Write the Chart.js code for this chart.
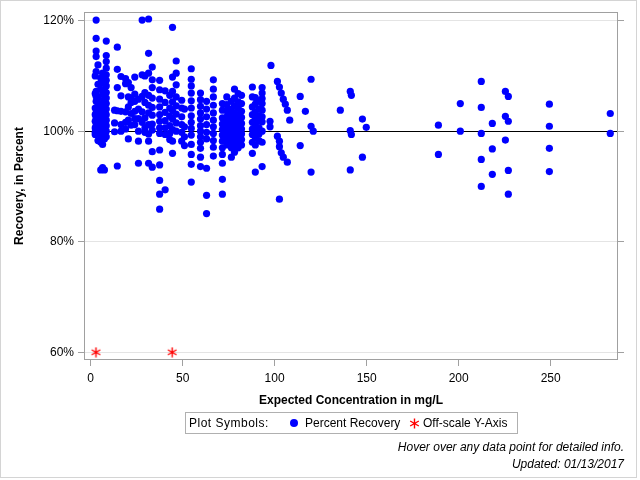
<!DOCTYPE html>
<html>
<head>
<meta charset="utf-8">
<script src="https://cdn.jsdelivr.net/npm/chart.js@4/dist/chart.umd.min.js"></script>
<style>
  html, body { margin: 0; padding: 0; background: #fff; }
  #wrap { position: relative; width: 640px; height: 480px; font-family: "Liberation Sans", Arial, sans-serif; }
  #c { position: absolute; left: 0; top: 0; }
  #legend { position: absolute; left: 185px; top: 412px; width: 331px; height: 20px; border: 1px solid #b0b0b0; font-size: 12px; color: #000; }
  #legend span { position: absolute; top: 3px; white-space: nowrap; }
  .dot { width: 8px; height: 8px; border-radius: 50%; background: #0000ff; position: absolute; }
  #legStar { position: absolute; left: 223px; top: 5px; }
  .foot { position: absolute; right: 16px; font-size: 12px; font-style: italic; color: #000; white-space: nowrap; }
</style>
</head>
<body>
<div id="wrap">
  <canvas id="c" width="640" height="480"></canvas>
  <div id="legend">
    <span style="left:3px; letter-spacing:0.5px">Plot Symbols:</span>
    <div class="dot" style="left:104px; top:6px"></div>
    <span style="left:119px">Percent Recovery</span>
    <canvas id="legStar" width="11" height="11"></canvas>
    <span style="left:237px">Off-scale Y-Axis</span>
  </div>
  <div class="foot" style="top:440px">Hover over any data point for detailed info.</div>
  <div class="foot" style="top:457px">Updated: 01/13/2017</div>
</div>
<script>
// Expected concentration levels (mg/L) and the percent recoveries observed at each level
const concLevels = [
  2.5, 3, 4, 5.5, 6.5, 7.5, 8.5, 13, 14.5, 16.5, 19, 20.5, 22, 24, 26, 28, 29.5, 31.5, 33.5,
  37.5, 40.5, 43, 44.5, 46.5, 49.5, 51, 54.7, 59.7, 63, 66.7, 71.6, 74, 76.5, 78.2, 80.2, 82,
  87.9, 89.5, 91.5, 93.2, 97.5, 98, 101.5, 102.6, 103.6, 104.7, 105.8, 106.9, 108.2,
  113.9, 116.7, 119.8, 121, 135.7, 141.1, 141.7, 147.7, 149.8,
  189, 200.9, 212.3, 218.3, 225.4, 227, 249.3, 282.4
];
const recoveryByLevel = [
  [110.0, 106.8, 104.2, 103.0, 101.8, 100.6, 99.8, 99.4],
  [120.1, 116.8, 114.5, 113.5, 110.8, 107.2, 106.3, 105.4, 103.3, 102.3, 101.0, 100.1],
  [112.0, 108.5, 106.0, 104.5, 102.0, 100.3, 99.6, 98.3],
  [109.6, 107.6, 105.0, 103.6, 102.8, 101.5, 100.4, 99.0, 98.0, 93.0],
  [110.5, 108.8, 106.7, 104.9, 103.9, 102.2, 101.0, 100.0, 99.2, 97.6, 93.4],
  [107.3, 105.8, 104.5, 103.4, 102.5, 101.5, 100.7, 99.6, 98.6, 93.0],
  [116.3, 113.7, 112.6, 111.4, 110.2, 109.2, 108.2, 107.0, 106.0, 105.0, 104.0, 103.0, 102.0, 101.0, 100.0, 99.0],
  [103.8, 101.5, 99.9],
  [115.2, 111.2, 107.9, 103.7, 93.7],
  [109.9, 106.4, 103.6, 101.2, 100.0],
  [109.5, 108.6, 103.5, 101.6, 100.4],
  [108.8, 106.2, 104.4, 102.0, 98.6],
  [107.9, 106.0, 105.2, 103.2, 101.1],
  [109.8, 106.7, 105.4, 103.6, 102.3, 101.2],
  [105.8, 104.0, 102.3, 100.0, 98.2, 94.2],
  [120.1, 110.2, 106.3, 103.5, 101.6],
  [110.0, 107.0, 105.2, 102.4, 100.6, 99.8],
  [120.3, 114.1, 110.5, 106.5, 104.7, 103.3, 101.2, 99.5, 98.2, 94.2],
  [111.6, 109.3, 107.9, 106.0, 104.3, 102.9, 101.3, 100.2, 96.3, 93.5],
  [109.2, 107.5, 105.8, 104.4, 103.0, 101.8, 100.6, 99.6, 96.6, 93.9, 91.1, 88.6, 85.9],
  [107.3, 105.2, 103.4, 101.9, 100.6, 99.4, 89.4],
  [106.5, 104.2, 102.7, 101.0, 99.6, 98.5],
  [118.8, 109.8, 107.2, 105.3, 103.7, 102.2, 100.3, 98.2, 96.0],
  [112.7, 110.5, 108.4, 106.2, 104.6, 103.1, 101.5, 100.0],
  [105.6, 104.2, 102.6, 101.2, 99.8, 98.2],
  [104.0, 100.8, 99.0, 97.4],
  [111.3, 109.4, 108.2, 106.9, 105.5, 104.2, 102.8, 101.6, 100.5, 99.3, 97.6, 95.8, 94.0, 90.8],
  [106.9, 105.7, 104.5, 103.3, 102.2, 101.0, 100.0, 99.0, 98.0, 96.9, 95.3, 93.6],
  [105.4, 104.0, 102.6, 101.2, 99.8, 98.6, 93.3, 88.4, 85.1],
  [109.3, 107.6, 106.2, 104.7, 103.3, 102.0, 100.8, 99.6, 98.3, 97.1, 95.5],
  [105.0, 103.8, 102.4, 101.3, 100.3, 99.3, 98.2, 97.0, 95.8, 94.2, 91.3, 88.6],
  [106.2, 104.8, 103.7, 102.6, 101.5, 100.5, 99.5, 98.6, 97.5],
  [105.4, 104.0, 103.0, 102.0, 101.0, 100.0, 99.0, 98.0, 97.0, 95.3],
  [107.6, 106.0, 104.6, 103.3, 102.3, 101.3, 100.3, 99.3, 98.3, 97.2, 96.2],
  [106.8, 105.3, 104.2, 103.0, 102.0, 101.0, 100.0, 99.0, 98.0, 97.0],
  [106.5, 105.0, 103.6, 102.5, 101.4, 100.4, 99.5, 98.5, 97.5],
  [108.0, 106.2, 104.4, 103.0, 101.6, 100.4, 99.4, 98.0, 96.0],
  [106.1, 104.9, 103.5, 102.3, 101.2, 100.0, 98.8, 97.5, 92.6],
  [105.5, 104.0, 102.8, 101.8, 100.6, 99.5, 98.3],
  [107.9, 106.9, 105.9, 105.0, 103.8, 102.6, 101.7, 100.0, 98.0, 93.6],
  [101.8, 100.8],
  [111.9],
  [109.0, 99.1],
  [108.0, 98.2, 97.2, 87.7],
  [106.9, 96.1],
  [105.8, 95.3],
  [104.9],
  [103.8, 94.4],
  [102.0],
  [106.3, 97.4],
  [103.6],
  [109.4, 100.9, 92.6],
  [100.0],
  [103.8],
  [107.2, 100.1, 93.0],
  [106.5, 99.4],
  [102.2, 95.3],
  [100.7],
  [101.1, 95.8],
  [105.0, 100.0],
  [109.0, 104.3, 99.6, 94.9, 90.0],
  [101.4, 96.8, 92.2],
  [107.2, 102.7, 98.4],
  [106.3, 101.8, 92.9, 88.6],
  [104.9, 100.9, 96.9, 92.7],
  [103.2, 99.6]
];
// Results whose recovery falls below the axis range, plotted on the 60% line
const offscaleConc = [2.9, 44.3];
const offscaleRecovery = [60, 60];
// Axis settings
const yTickValues = [60, 80, 100, 120];
const xTickValues = [0, 50, 100, 150, 200, 250];
const yRange = [58.6, 121.57];
const xRange = [-3.6, 286.6];

const recoveryPoints = [];
concLevels.forEach((c, i) => recoveryByLevel[i].forEach(v => recoveryPoints.push({ x: c, y: v })));
const offscalePoints = offscaleConc.map((c, i) => ({ x: c, y: offscaleRecovery[i] }));

// Six-armed asterisk marker
function drawAsterisk(cv) {
  const g = cv.getContext('2d');
  const w = cv.width, h = cv.height, cx = w / 2, cy = h / 2, r = w / 2 - 0.5;
  g.clearRect(0, 0, w, h);
  g.strokeStyle = '#ff0000';
  g.lineWidth = 1.4;
  g.beginPath();
  [90, 30, 150].forEach(a => {
    const rad = a * Math.PI / 180, dx = Math.cos(rad) * r, dy = Math.sin(rad) * r;
    g.moveTo(cx - dx, cy - dy); g.lineTo(cx + dx, cy + dy);
  });
  g.stroke();
  return cv;
}
const asteriskImg = drawAsterisk(Object.assign(document.createElement('canvas'), { width: 11, height: 11 }));
drawAsterisk(document.getElementById('legStar'));

const FONT = '"Liberation Sans", Arial, sans-serif';
const frameColor = '#a0a0a0';

const framePlugin = {
  id: 'frame',
  afterDatasetsDraw(chart) {
    const { ctx, chartArea: a } = chart;
    ctx.save();
    ctx.strokeStyle = frameColor;
    ctx.lineWidth = 1;
    ctx.strokeRect(Math.round(a.left) + 0.5, Math.round(a.top) + 0.5, Math.round(a.right - a.left) - 1, Math.round(a.bottom - a.top) - 1);
    ctx.restore();
  },
  afterDraw(chart) {
    const { ctx } = chart;
    ctx.save();
    ctx.strokeStyle = '#d4d4d4';
    ctx.lineWidth = 1;
    ctx.strokeRect(0.5, 0.5, 636, 477);
    ctx.restore();
  }
};

new Chart(document.getElementById('c'), {
  type: 'scatter',
  data: {
    datasets: [
      {
        label: 'Percent Recovery',
        data: recoveryPoints,
        pointStyle: 'circle',
        pointRadius: 3.6,
        pointHoverRadius: 4.5,
        backgroundColor: '#0000ff',
        borderColor: '#0000ff',
        borderWidth: 0
      },
      {
        label: 'Off-scale Y-Axis',
        data: offscalePoints,
        pointStyle: asteriskImg,
        pointRadius: 5.5,
        borderColor: '#ff0000',
        backgroundColor: '#ff0000'
      }
    ]
  },
  options: {
    responsive: false,
    animation: false,
    devicePixelRatio: 1,
    layout: { padding: { left: 0, top: 12, right: 16, bottom: 70 } },
    plugins: { legend: { display: false }, tooltip: { enabled: true } },
    scales: {
      x: {
        type: 'linear',
        min: xRange[0], max: xRange[1],
        afterBuildTicks: s => { s.ticks = xTickValues.map(v => ({ value: v })); },
        afterFit: s => { s.height = 50; },
        ticks: { font: { family: FONT, size: 12 }, color: '#000', padding: 5, maxRotation: 0 },
        grid: { drawOnChartArea: false, drawTicks: true, tickLength: 6, tickColor: frameColor },
        border: { display: false },
        title: { display: true, text: 'Expected Concentration in mg/L', font: { family: FONT, size: 12, weight: 'bold' }, color: '#000', padding: { top: 4, bottom: 2 } }
      },
      y: {
        type: 'linear',
        position: 'left',
        min: yRange[0], max: yRange[1],
        afterBuildTicks: s => { s.ticks = yTickValues.map(v => ({ value: v })); },
        afterFit: s => { s.width = 84; },
        ticks: { font: { family: FONT, size: 12 }, color: '#000', padding: 4, callback: v => v + '%' },
        grid: {
          color: c => (c.tick && c.tick.value === 100) ? '#000000' : '#e4e4e4',
          lineWidth: 1,
          drawTicks: true, tickLength: 6, tickColor: frameColor
        },
        border: { display: false },
        title: { display: true, text: 'Recovery, in Percent', font: { family: FONT, size: 12, weight: 'bold' }, color: '#000', padding: { top: 12, bottom: 4 } }
      },
      y2: {
        type: 'linear',
        position: 'right',
        min: yRange[0], max: yRange[1],
        afterBuildTicks: s => { s.ticks = yTickValues.map(v => ({ value: v })); },
        afterFit: s => { s.width = 6; },
        ticks: { display: false },
        grid: { drawOnChartArea: false, drawTicks: true, tickLength: 6, tickColor: frameColor },
        border: { display: false }
      }
    }
  },
  plugins: [framePlugin]
});
</script>
</body>
</html>
